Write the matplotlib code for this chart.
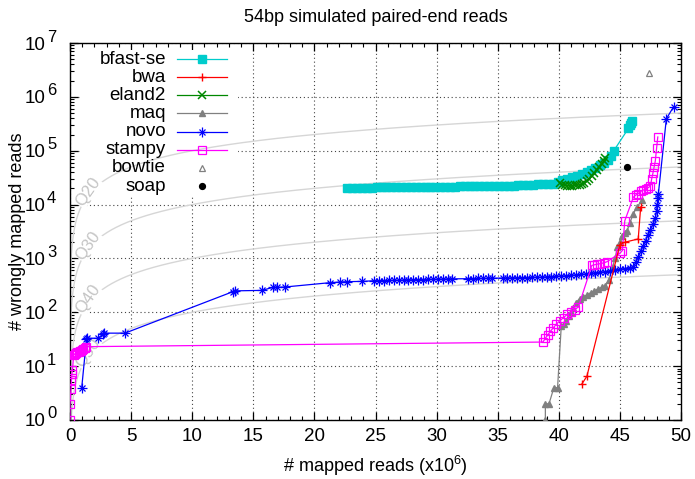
import matplotlib
matplotlib.use("Agg")
import matplotlib.pyplot as plt
import matplotlib.transforms as mtransforms
import numpy as np
from matplotlib.lines import Line2D
from matplotlib.patches import Rectangle
from matplotlib.ticker import MultipleLocator, FixedLocator, NullFormatter

plt.rcParams['font.family'] = ['Liberation Sans', 'DejaVu Sans']
plt.rcParams['mathtext.default'] = 'regular'

# --- data (x in millions of mapped reads, y = wrongly mapped reads) ---
bfast_x = [22.7, 23.1, 23.5, 23.9, 24.3, 24.7, 25.1, 25.5, 25.9, 26.3, 26.7, 27.1,
           27.5, 27.9, 28.3, 28.7, 29.1, 29.5, 29.9, 30.3, 30.7, 31.1, 31.5, 31.9,
           32.3, 32.7, 33.1, 33.5, 33.9, 34.3, 34.7, 35.1, 35.5, 35.9, 36.3, 36.7,
           37.1, 37.5, 37.9, 38.3, 38.7, 39.1, 39.5, 39.9, 40.3, 40.7, 41.1, 41.5,
           41.9, 42.3, 42.6, 43.0, 43.4, 43.7, 44.0, 44.3, 44.5, 45.7, 45.8, 45.9, 46.0]
bfast_y = [2.05e4, 2.05e4, 2.06e4, 2.06e4, 2.07e4, 2.07e4, 2.08e4, 2.08e4, 2.09e4, 2.09e4,
           2.1e4, 2.1e4, 2.11e4, 2.11e4, 2.12e4, 2.12e4, 2.13e4, 2.13e4, 2.14e4, 2.14e4,
           2.15e4, 2.15e4, 2.16e4, 2.17e4, 2.17e4, 2.18e4, 2.19e4, 2.2e4, 2.2e4, 2.21e4,
           2.22e4, 2.23e4, 2.24e4, 2.25e4, 2.26e4, 2.28e4, 2.3e4, 2.32e4, 2.34e4, 2.36e4,
           2.38e4, 2.4e4, 2.45e4, 2.6e4, 2.8e4, 3.0e4, 3.2e4, 3.4e4, 3.7e4, 4.0e4, 4.3e4,
           4.8e4, 5.4e4, 6.0e4, 6.8e4, 8.0e4, 1.0e5, 2.6e5, 3.0e5, 3.3e5, 3.6e5]

bwa_x = [41.9, 42.3, 45.0, 45.4, 46.5, 46.7]
bwa_y = [4.7, 6.5, 1800, 2000, 2300, 9000]

eland2_x = [40.1, 40.3, 40.5, 40.7, 40.9, 41.1, 41.3, 41.5, 41.7, 41.9, 42.1, 42.3,
            42.5, 42.7, 42.9, 43.1, 43.3, 43.5, 43.7, 43.8]
eland2_y = [2.5e4, 2.35e4, 2.3e4, 2.25e4, 2.25e4, 2.25e4, 2.3e4, 2.3e4, 2.35e4, 2.45e4,
            2.55e4, 2.75e4, 3.0e4, 3.4e4, 3.8e4, 4.3e4, 4.9e4, 5.6e4, 6.4e4, 7.2e4]

maq_x = [38.9, 38.9, 39.2, 39.6, 39.9, 40.2, 40.4, 40.6, 40.8, 41.0, 41.2, 41.4, 41.7,
         42.0, 42.3, 42.6, 42.9, 43.2, 43.5, 43.8, 44.1, 44.4, 44.6, 44.8, 45.0, 45.2,
         45.4, 45.6, 45.8, 46.1, 46.4, 46.8]
maq_y = [1, 2, 2, 4, 4, 55, 60, 70, 85, 100, 120, 150, 180, 195, 210, 230, 250, 270,
         290, 310, 400, 690, 1000, 1600, 2000, 2600, 3000, 3300, 4500, 6800, 9000, 1.2e4]

novo_x = [0.96, 1.35, 1.4, 2.3, 2.7, 2.8, 4.5, 13.3, 13.5, 15.7, 16.6, 16.9, 17.6,
          21.3, 22.1, 22.7, 23.9, 24.9, 25.3, 25.7, 26.1, 26.5, 26.9, 27.3, 27.7, 28.1,
          28.5, 28.9, 29.3, 29.7, 30.1, 30.5, 30.9, 31.3, 32.6, 33.0, 33.4, 33.8, 34.2,
          34.5, 35.4, 35.8, 36.2, 36.6, 37.0, 37.4, 37.8, 38.2, 38.6, 39.0, 39.4, 39.8,
          40.2, 40.6, 41.0, 41.4, 41.8, 42.2, 42.6, 43.0, 43.4, 43.8, 44.2, 44.6, 45.0,
          45.4, 45.8, 46.1, 46.3, 46.5, 46.7, 46.9, 47.1, 47.3, 47.5, 47.7, 47.9, 48.0,
          48.05, 48.1, 48.15, 48.8, 49.4]
novo_y = [4, 32, 33, 33, 39, 41, 41, 240, 250, 255, 290, 290, 295,
          355, 365, 370, 375, 385, 385, 388, 390, 392, 395, 397, 400, 402,
          404, 406, 408, 410, 412, 414, 416, 418, 420, 422, 424, 426, 428,
          430, 432, 434, 436, 438, 440, 442, 445, 448, 450, 455, 460, 465,
          470, 478, 485, 495, 505, 515, 525, 540, 555, 570, 590, 610, 630,
          650, 670, 700, 850, 1050, 1350, 1700, 2150, 2700, 3400, 4300, 5600, 7500,
          1.0e4, 1.3e4, 1.6e4, 3.9e5, 6.6e5]

stampy_x = [0.0, 0.0, 0.08, 0.12, 0.15, 0.2, 0.3, 0.4, 0.5, 0.6, 0.7, 0.8, 0.9, 1.0,
            1.1, 1.2, 1.35, 38.7, 38.9, 39.1, 39.3, 39.5, 39.8, 40.1, 40.4, 40.7, 41.0,
            41.3, 41.6, 42.7, 42.9, 43.1, 43.4, 43.7, 43.95, 45.0, 45.2, 45.4, 46.1,
            46.3, 46.5, 46.7, 46.9, 47.1, 47.3, 47.5, 47.6, 47.7, 47.8, 47.9, 48.0, 48.1]
stampy_y = [1, 2, 3.7, 5.5, 7, 8.4, 16, 17, 17.5, 18, 18.5, 19, 19.5, 20,
            21, 22, 23, 28, 33, 38, 44, 50, 60, 70, 80, 92, 102,
            112, 125, 740, 760, 780, 800, 830, 870, 1250, 1400, 5000, 1.37e4,
            1.5e4, 1.6e4, 1.75e4, 1.85e4, 1.95e4, 2.05e4, 2.2e4, 3.0e4, 3.8e4, 5.0e4, 6.5e4, 1.1e5, 1.8e5]

bowtie_x = [47.4]
bowtie_y = [2.8e6]

soap_x = [45.6]
soap_y = [4.9e4]

q_levels = [20, 30, 40, 50]
y_exponents = [0, 1, 2, 3, 4, 5, 6, 7]

fig = plt.figure(figsize=(6.95, 4.79), dpi=100)
ax = fig.add_axes([70/695, 1-420/479, 611/695, 377/479])
ax.set_yscale('log')
ax.set_xlim(0, 50)
ax.set_ylim(1, 1e7)
ax.set_axisbelow(True)

# phred-quality reference curves
qx = np.geomspace(1e-3, 50, 600)
for q in q_levels:
    ax.plot(qx, qx * 1e6 * 10 ** (-q / 10), color='#d6d6d6', lw=1.0, zorder=1)
    ax.text(1.45, 1.45e6 * 10 ** (-q / 10) * 1.2, 'Q%d' % q, color='#c4c4c4',
            fontsize=12, rotation=55, ha='center', va='center', zorder=1.5,
            bbox=dict(facecolor='white', edgecolor='none', pad=0.2))

ax.grid(True, which='major', color='#444444', lw=0.8, ls=(0, (1, 2.5)))

# white box behind the key hides the grid
ax.add_patch(Rectangle((12/611, 1-(197-43)/377), (238-82)/611, (197-50)/377,
                       transform=ax.transAxes, facecolor='white', edgecolor='none',
                       zorder=0.8))

c_bfast = '#00cccc'
c_bwa = '#ff0000'
c_eland = '#008800'
c_maq = '#808080'
c_novo = '#0000ff'
c_stampy = '#ff00ff'

ax.plot(bfast_x, bfast_y, color=c_bfast, lw=0.9, marker='s', ms=6, mec=c_bfast, zorder=3)
ax.plot(eland2_x, eland2_y, color=c_eland, lw=0.9, marker='x', ms=5.5, mew=1.1, zorder=3.2)
ax.plot(maq_x, maq_y, color=c_maq, lw=0.9, marker='^', ms=4.5, mec=c_maq, zorder=3.4)
ax.plot(novo_x, novo_y, color=c_novo, lw=0.9, marker='+', ms=6.5, mew=0.9, zorder=3.6)
ax.plot(novo_x, novo_y, ls='none', color=c_novo, marker='x', ms=4.8, mew=0.9, zorder=3.6)
ax.plot(stampy_x, stampy_y, color=c_stampy, lw=0.9, marker='s', ms=5.5, mfc='none',
        mew=0.9, zorder=3.8)
ax.plot(bwa_x, bwa_y, color=c_bwa, lw=0.9, marker='+', ms=6, mew=1, zorder=3.9)
ax.plot(bowtie_x, bowtie_y, ls='none', color=c_maq, marker='^', ms=5, mfc='white', mew=0.9, zorder=4)
ax.plot(soap_x, soap_y, ls='none', color='black', marker='o', ms=4.2, zorder=4)

# gnuplot-style key: right-aligned names, sample line with marker
key = [
    ('bfast-se', [dict(color=c_bfast, marker='s', ms=6, mec=c_bfast)], True),
    ('bwa', [dict(color=c_bwa, marker='+', ms=6, mew=1)], True),
    ('eland2', [dict(color=c_eland, marker='x', ms=5.5, mew=1.1)], True),
    ('maq', [dict(color=c_maq, marker='^', ms=4.5)], True),
    ('novo', [dict(color=c_novo, marker='+', ms=6.5, mew=0.9),
              dict(color=c_novo, marker='x', ms=4.8, mew=0.9)], True),
    ('stampy', [dict(color=c_stampy, marker='s', ms=5.5, mfc='none', mew=0.9)], True),
    ('bowtie', [dict(color=c_maq, marker='^', ms=5, mfc='white', mew=0.9)], False),
    ('soap', [dict(color='black', marker='o', ms=4.2)], False),
]
for i, (name, styles, with_line) in enumerate(key):
    ypx = 59 + i * 18.15
    yy = (420 - ypx) / 377
    ax.text((166 - 70) / 611, yy, name, transform=ax.transAxes, ha='right',
            va='center', fontsize=13.5, zorder=5)
    if with_line:
        ax.add_line(Line2D([(177 - 70) / 611, (227 - 70) / 611], [yy, yy],
                           transform=ax.transAxes, lw=0.9, color=styles[0]['color'], zorder=5))
    for st in styles:
        ax.add_line(Line2D([(202 - 70) / 611], [yy], transform=ax.transAxes,
                           ls='none', zorder=5, **st))

ax.xaxis.set_major_locator(MultipleLocator(5))
ax.xaxis.set_minor_locator(MultipleLocator(1))
decades = [10.0 ** e for e in y_exponents]
ax.yaxis.set_major_locator(FixedLocator(decades))
ax.yaxis.set_minor_locator(FixedLocator([m * d for d in decades[:-1] for m in range(2, 10)]))
ax.yaxis.set_minor_formatter(NullFormatter())
ax.set_yticklabels(['10'] * len(decades))
ax.tick_params(which='both', direction='in', top=True, right=True, labelsize=13.5)
ax.tick_params(axis='x', which='major', pad=6)
ax.tick_params(axis='y', which='major', pad=18)
ax.tick_params(which='major', length=6, width=0.9)
ax.tick_params(which='minor', length=3, width=0.8)
for s in ax.spines.values():
    s.set_linewidth(1.0)

# gnuplot-like large exponents next to the "10" labels
ytrans = mtransforms.offset_copy(
    mtransforms.blended_transform_factory(ax.transAxes, ax.transData),
    fig=fig, x=0, y=6, units='dots')
for e, d in zip(y_exponents, decades):
    ax.text((47 - 70) / 611, d, str(e), transform=ytrans, ha='left', va='center',
            fontsize=12, clip_on=False)

ax.set_xlabel('# mapped reads (x10$^6$)', fontsize=13, labelpad=6)
ax.set_ylabel('# wrongly mapped reads', fontsize=13)
ax.yaxis.set_label_coords(-0.072, 0.5)
fig.text((70 + 681) / 2 / 695, 1 - 17 / 479, '54bp simulated paired-end reads',
         ha='center', va='center', fontsize=13)

fig.savefig('out.png', dpi=100)
